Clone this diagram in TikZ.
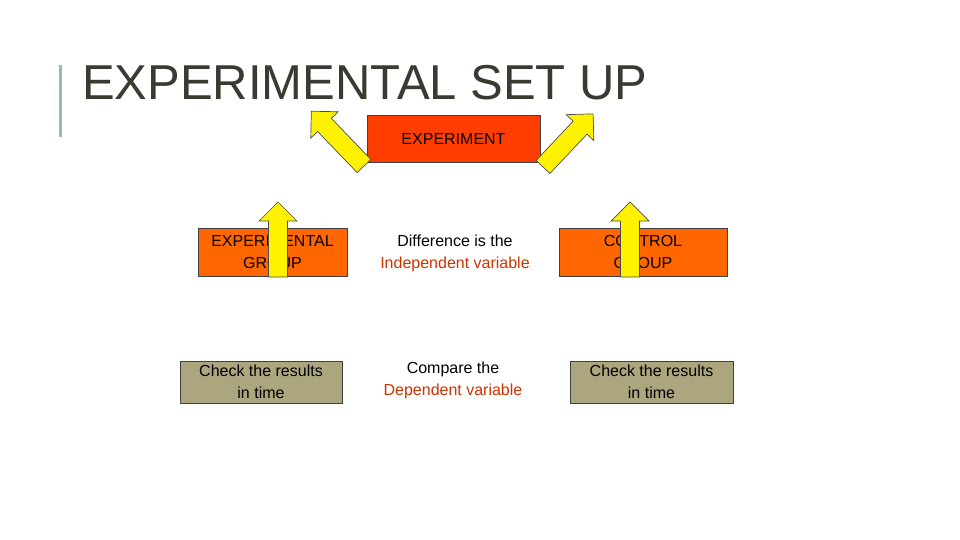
\documentclass[tikz,border=0pt]{standalone}
\usepackage{fontspec}
\setmainfont{Liberation Sans}
\definecolor{ttl}{HTML}{3A3A33}
\definecolor{barc}{HTML}{9DB5BE}
\definecolor{redb}{HTML}{FF3D00}
\definecolor{orb}{HTML}{FF6600}
\definecolor{olb}{HTML}{ABA67E}
\definecolor{redt}{HTML}{CC3300}
\tikzset{
 box/.style={draw=black!75, line width=0.8pt, minimum width=#1, align=center, font=\fontsize{16}{22}\selectfont, inner sep=0pt},
 txt/.style={align=center, font=\fontsize{16}{22}\selectfont},
 barrow/.style={draw=black!70, fill=yellow, line width=0.7pt, line join=miter},
}
% block arrow pointing along +x, tail at origin, length #1
\newcommand{\blockarrow}[3]{% tail coord, angle, length
 \begin{scope}[shift={#1}, rotate=#2]
  \draw[barrow] (0,-9.5) -- ({#3-19},-9.5) -- ({#3-19},-19) -- (#3,0) -- ({#3-19},19) -- ({#3-19},9.5) -- (0,9.5) -- cycle;
 \end{scope}}
\begin{document}
\begin{tikzpicture}[x=1pt,y=-1pt]
\useasboundingbox (0,0) rectangle (960,540);
\fill[barc] (59,65) rectangle (62,137);
\node[anchor=base west, inner sep=0pt, text=ttl, font=\fontsize{49}{50}\selectfont] (title) at (82,100) {EXPERIMENTAL SET UP};
\node[box=173pt, minimum height=47pt, fill=redb] (exp) at (453.5,138.5) {EXPERIMENT};
\node[box=149pt, minimum height=48pt, fill=orb] (eg) at (272.5,252) {EXPERIMENTAL\\GROUP};
\node[box=168pt, minimum height=48pt, fill=orb] (cg) at (643,252) {CONTROL\\GROUP};
\node[box=162pt, minimum height=42pt, fill=olb] (c1) at (261,382) {Check the results\\in time};
\node[box=163pt, minimum height=42pt, fill=olb] (c2) at (651.5,382) {Check the results\\in time};
\node[txt] (diff) at (455,253) {Difference is the\\\textcolor{redt}{Independent variable}};
\node[txt] (cmp) at (453,380) {Compare the\\\textcolor{redt}{Dependent variable}};
\blockarrow{(364,166)}{133.9}{76}
\blockarrow{(543,167)}{46.7}{73}
\blockarrow{(278,277)}{90}{75}
\blockarrow{(630,277)}{90}{75}
\end{tikzpicture}
\end{document}
